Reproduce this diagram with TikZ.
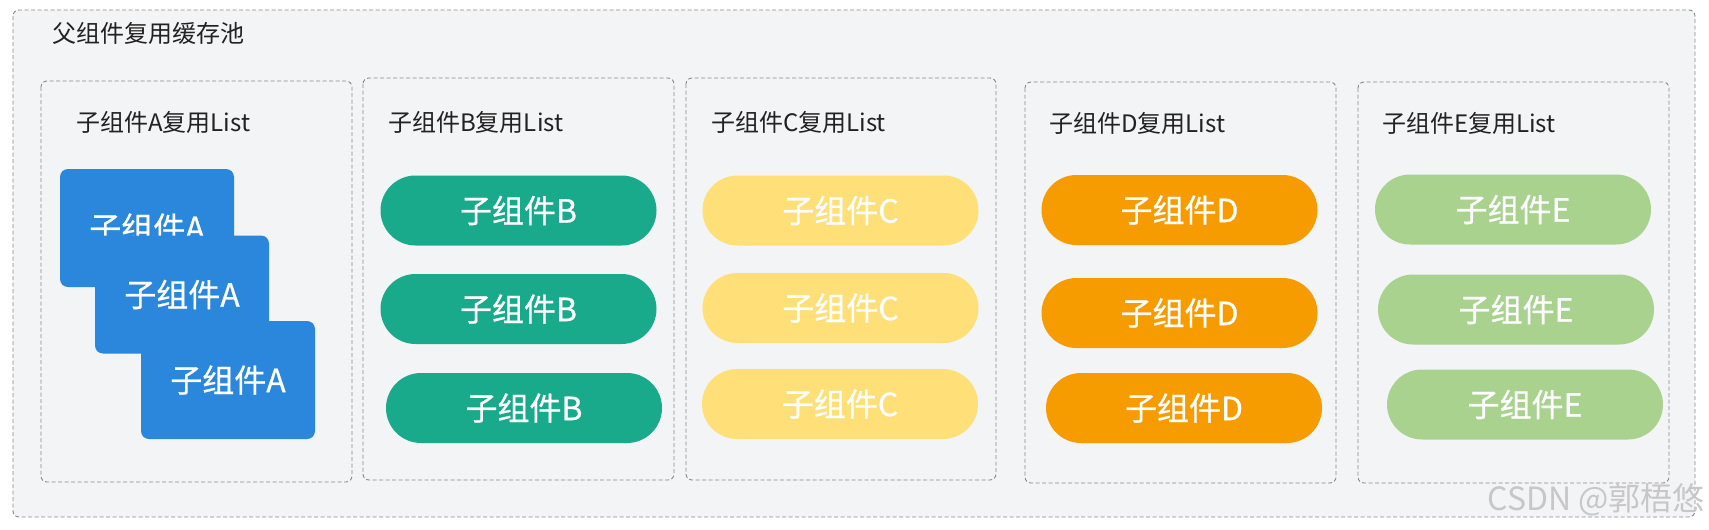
\documentclass[tikz,border=0pt]{standalone}
\usepackage{fontspec}
\setmainfont{Noto Sans CJK SC}
\newfontfamily\pillfont[FakeBold=0.6]{Noto Sans CJK SC}
\definecolor{poolbg}{HTML}{F3F4F6}
\definecolor{dashgray}{HTML}{8A8A8A}
\definecolor{labelc}{HTML}{222222}
\definecolor{cA}{HTML}{2A87DB}
\definecolor{cB}{HTML}{19AA8B}
\definecolor{cC}{HTML}{FFDF78}
\definecolor{cD}{HTML}{F79C00}
\definecolor{cE}{HTML}{A8D28E}
\tikzset{
  dbox/.style={draw=dashgray, line width=0.9pt, dash pattern=on 4pt off 2.5pt, rounded corners=6pt},
  lbl/.style={anchor=west, inner sep=0pt, text=labelc, font=\fontsize{24}{28}\selectfont},
  pill/.style={fill=#1, draw=none, rounded corners=35pt, minimum width=276pt, minimum height=70pt, inner sep=0pt, text=white, font=\pillfont\fontsize{32}{36}\selectfont},
  card/.style={fill=cA, draw=none, rounded corners=8pt, minimum width=174pt, minimum height=118pt, inner sep=0pt, text=white, font=\pillfont\fontsize{32}{36}\selectfont},
}
\begin{document}
\begin{tikzpicture}[x=1pt,y=-1pt]
\useasboundingbox (0,0) rectangle (1709,530);
\fill[white] (0,0) rectangle (1709,530);
% outer pool
\draw[dbox, fill=poolbg] (13,10) rectangle (1695,517);
\node[lbl] (title) at (52,33) {父组件复用缓存池};
% list boxes
\draw[dbox] (41,81) rectangle (352,482);
\draw[dbox] (363,78) rectangle (674,480);
\draw[dbox] (686,78) rectangle (996,480);
\draw[dbox] (1025,82) rectangle (1336,483);
\draw[dbox] (1358,82) rectangle (1669,483);
\node[lbl] (lA) at (76,122) {子组件A复用List};
\node[lbl] (lB) at (388,122) {子组件B复用List};
\node[lbl] (lC) at (711,122) {子组件C复用List};
\node[lbl] (lD) at (1049,123) {子组件D复用List};
\node[lbl] (lE) at (1382,123) {子组件E复用List};
% A cards
\node[card] (a1) at (147,228) {子组件A};
\node[card] (a2) at (182,294.5) {子组件A};
\node[card] (a3) at (228,380) {子组件A};
% B
\node[pill=cB] (b1) at (518.5,210.5) {子组件B};
\node[pill=cB] (b2) at (518.5,309) {子组件B};
\node[pill=cB] (b3) at (524,408) {子组件B};
% C
\node[pill=cC] (c1) at (840.5,210.5) {子组件C};
\node[pill=cC] (c2) at (840.5,308) {子组件C};
\node[pill=cC] (c3) at (840,404) {子组件C};
% D
\node[pill=cD] (d1) at (1179.5,210) {子组件D};
\node[pill=cD] (d2) at (1179.5,313) {子组件D};
\node[pill=cD] (d3) at (1184,408) {子组件D};
% E
\node[pill=cE] (e1) at (1513,209.5) {子组件E};
\node[pill=cE] (e2) at (1516,309.5) {子组件E};
\node[pill=cE] (e3) at (1525,404.5) {子组件E};
% watermark
\node[anchor=east, inner sep=0pt, text=black!22, font=\fontsize{32}{36}\selectfont] (wm) at (1705,500) {CSDN @郭梧悠};
\end{tikzpicture}
\end{document}
